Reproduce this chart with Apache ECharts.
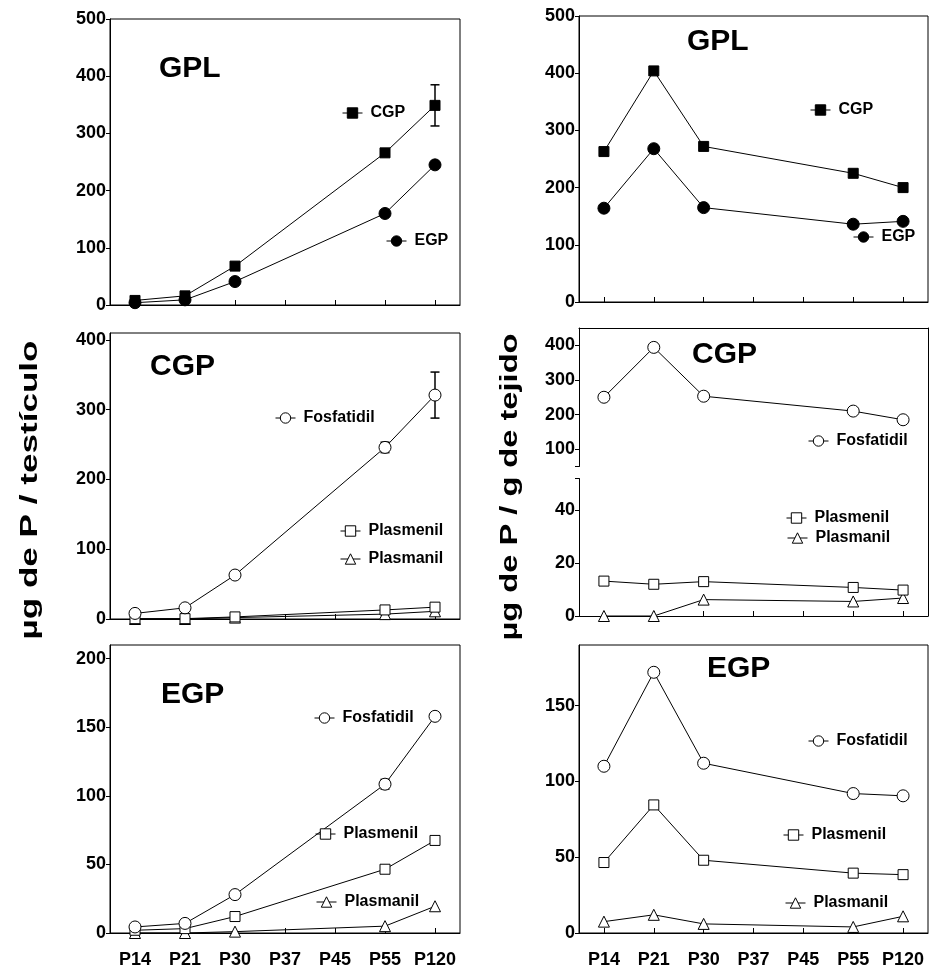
<!DOCTYPE html>
<html>
<head>
<meta charset="utf-8">
<title>Glicerofosfolípidos en testículo</title>
<script src="https://cdn.jsdelivr.net/npm/echarts@6/dist/echarts.min.js"></script>
<style>
  html, body { margin: 0; padding: 0; background: #fff; }
  #chart { width: 932px; height: 972px; }
</style>
</head>
<body>
<div id="chart"></div>
<script>
// Edades postnatales (días)
const categories = ['P14', 'P21', 'P30', 'P37', 'P45', 'P55', 'P120'];

// µg de P / testículo
const gplCgpTestis = [8, 16, 68, null, null, 266, 349];
const gplCgpTestisErr = [0, 0, 0, null, null, 0, 36];
const gplEgpTestis = [4, 9, 41, null, null, 160, 245];

const cgpFosfTestis = [8, 16, 63, null, null, 246, 321];
const cgpFosfTestisErr = [0, 0, 0, null, null, 7.5, 33];
const cgpPlsmeTestis = [0.5, 0.5, 3, null, null, 13, 17];
const cgpPlsmaTestis = [0, 0, 2, null, null, 7, 11];

const egpFosfTestis = [4.4, 7, 28, null, null, 108.5, 158];
const egpFosfTestisErr = [0, 0, 0, null, null, 3.5, 0];
const egpPlsmeTestis = [2, 3.2, 12, null, null, 46.5, 67.5];
const egpPlsmaTestis = [0, 0, 1, null, null, 5, 19.5];

// µg de P / g de tejido
const gplCgpTissue = [263, 404, 272, null, null, 225, 200];
const gplEgpTissue = [164, 268, 165, null, null, 136, 141];

const cgpFosfTissue = [250, 394, 253, null, null, 210, 185];
const cgpPlsmeTissue = [13.2, 12, 13, null, null, 10.8, 9.8];
const cgpPlsmaTissue = [0, 0, 6.2, null, null, 5.5, 6.8];

const egpFosfTissue = [110, 172, 112, null, null, 92, 90.5];
const egpPlsmeTissue = [46.5, 84.5, 48, null, null, 39.5, 38.5];
const egpPlsmaTissue = [7.5, 12, 6, null, null, 4, 11];

// Marcas del eje Y
const ticksGplTestis = [0, 100, 200, 300, 400, 500];
const ticksCgpTestis = [0, 100, 200, 300, 400];
const ticksEgpTestis = [0, 50, 100, 150, 200];
const ticksGplTissue = [0, 100, 200, 300, 400, 500];
const ticksCgpTissueHigh = [100, 200, 300, 400];
const ticksCgpTissueLow = [0, 20, 40];
const ticksEgpTissue = [0, 50, 100, 150];

const FONT = '"Liberation Sans", Arial, Helvetica, sans-serif';
const INK = '#000';

const chart = echarts.init(document.getElementById('chart'), null, { renderer: 'canvas' });

// Paneles: 0 GPL/testículo, 1 GPL/tejido, 2 CGP/testículo, 3 CGP/tejido (arriba del corte),
// 4 CGP/tejido (abajo del corte), 5 EGP/testículo, 6 EGP/tejido, 7 marco del panel cortado
const L1 = 110, W1 = 350, L2 = 579, W2 = 349;
const grids = [
  { left: L1, top: 19, width: W1, height: 286, show: true },
  { left: L2, top: 16, width: W2, height: 286, show: true },
  { left: L1, top: 333, width: W1, height: 286, show: true },
  { left: L2, top: 328, width: W2, height: 138.5, show: false },
  { left: L2, top: 478.5, width: W2, height: 137.5, show: false },
  { left: L1, top: 645, width: W1, height: 288, show: true },
  { left: L2, top: 645, width: W2, height: 288, show: true },
  { left: L2, top: 328, width: W2, height: 288, show: false }
].map(g => Object.assign({ borderColor: INK, borderWidth: 1, backgroundColor: 'transparent', outerBoundsMode: 'none', containLabel: false }, g));

function catAxis(gridIndex, showLabels, extra) {
  return Object.assign({
    type: 'category', gridIndex, data: categories, boundaryGap: true,
    axisLine: { show: true, onZero: false, lineStyle: { color: INK, width: 1 } },
    axisTick: { show: true, inside: true, length: 5, alignWithLabel: true, interval: 0, lineStyle: { color: INK, width: 1 } },
    axisLabel: { show: showLabels, interval: 0, margin: 18, color: INK, fontSize: 18, fontWeight: 'bold', fontFamily: FONT },
    splitLine: { show: false }
  }, extra || {});
}

function valAxis(gridIndex, min, max, labelVals, tickVals, extra) {
  return Object.assign({
    type: 'value', gridIndex, min, max, position: 'left',
    axisLine: { show: true, onZero: false, lineStyle: { color: INK, width: 1 } },
    axisTick: { show: true, inside: false, length: 4, lineStyle: { color: INK, width: 1 }, customValues: tickVals },
    axisLabel: { show: true, margin: 4, color: INK, fontSize: 18, fontWeight: 'bold', fontFamily: FONT, customValues: labelVals, showMinLabel: true, showMaxLabel: true },
    splitLine: { show: false }
  }, extra || {});
}

const xAxes = [
  catAxis(0, false),
  catAxis(1, false),
  catAxis(2, false),
  catAxis(3, false, { show: false }),
  catAxis(4, false),
  catAxis(5, true),
  catAxis(6, true),
  catAxis(7, false, { position: 'top', axisTick: { show: false }, axisLabel: { show: false } })
];

const yAxes = [
  valAxis(0, 0, 500, ticksGplTestis, ticksGplTestis),
  valAxis(1, 0, 500, ticksGplTissue, ticksGplTissue),
  valAxis(2, 0, 410, ticksCgpTestis, ticksCgpTestis),
  valAxis(3, 50, 450, ticksCgpTissueHigh, [50].concat(ticksCgpTissueHigh)),
  valAxis(4, 0, 52, ticksCgpTissueLow, ticksCgpTissueLow.concat([52])),
  valAxis(5, 0, 210, ticksEgpTestis, ticksEgpTestis),
  valAxis(6, 0, 190, ticksEgpTissue, ticksEgpTissue),
  {
    type: 'value', gridIndex: 7, min: 0, max: 1, position: 'right',
    axisLine: { show: true, onZero: false, lineStyle: { color: INK, width: 1 } },
    axisTick: { show: false }, axisLabel: { show: false }, splitLine: { show: false }
  }
];

const MARKS = {
  filledSquare: { symbol: 'rect', size: 10, fill: INK },
  filledCircle: { symbol: 'circle', size: 12, fill: INK },
  openCircle: { symbol: 'circle', size: 12, fill: '#fff' },
  openSquare: { symbol: 'rect', size: 10, fill: '#fff' },
  openTriangle: { symbol: 'triangle', size: 11, fill: '#fff' }
};

function lineSeries(name, data, axisIndex, mark) {
  const m = MARKS[mark];
  return {
    type: 'line', name, data, xAxisIndex: axisIndex, yAxisIndex: axisIndex,
    connectNulls: true, clip: false, z: 3,
    symbol: m.symbol, symbolSize: m.size, showAllSymbol: true,
    lineStyle: { color: INK, width: 1 },
    itemStyle: { color: m.fill, borderColor: INK, borderWidth: 1 },
    emphasis: { disabled: true },
    animation: false
  };
}

// Barras de error (media ± EEM) a partir de los valores y sus errores
function errorSeries(values, errors, axisIndex) {
  const data = [];
  values.forEach((v, i) => {
    if (v != null && errors[i]) data.push([i, v, errors[i]]);
  });
  return {
    type: 'custom', xAxisIndex: axisIndex, yAxisIndex: axisIndex, z: 2,
    data, silent: true, animation: false,
    renderItem(params, api) {
      const i = api.value(0), m = api.value(1), e = api.value(2);
      const hi = api.coord([i, m + e]);
      const lo = api.coord([i, m - e]);
      const hw = 4.5;
      const st = { stroke: INK, lineWidth: 1.5 };
      return {
        type: 'group',
        children: [
          { type: 'line', shape: { x1: hi[0], y1: hi[1], x2: lo[0], y2: lo[1] }, style: st },
          { type: 'line', shape: { x1: hi[0] - hw, y1: hi[1], x2: hi[0] + hw, y2: hi[1] }, style: st },
          { type: 'line', shape: { x1: lo[0] - hw, y1: lo[1], x2: lo[0] + hw, y2: lo[1] }, style: st }
        ]
      };
    }
  };
}

const series = [
  errorSeries(gplCgpTestis, gplCgpTestisErr, 0),
  lineSeries('CGP', gplCgpTestis, 0, 'filledSquare'),
  lineSeries('EGP', gplEgpTestis, 0, 'filledCircle'),

  lineSeries('CGP', gplCgpTissue, 1, 'filledSquare'),
  lineSeries('EGP', gplEgpTissue, 1, 'filledCircle'),

  errorSeries(cgpFosfTestis, cgpFosfTestisErr, 2),
  lineSeries('Plasmanil', cgpPlsmaTestis, 2, 'openTriangle'),
  lineSeries('Plasmenil', cgpPlsmeTestis, 2, 'openSquare'),
  lineSeries('Fosfatidil', cgpFosfTestis, 2, 'openCircle'),

  lineSeries('Fosfatidil', cgpFosfTissue, 3, 'openCircle'),
  lineSeries('Plasmanil', cgpPlsmaTissue, 4, 'openTriangle'),
  lineSeries('Plasmenil', cgpPlsmeTissue, 4, 'openSquare'),

  errorSeries(egpFosfTestis, egpFosfTestisErr, 5),
  lineSeries('Plasmanil', egpPlsmaTestis, 5, 'openTriangle'),
  lineSeries('Plasmenil', egpPlsmeTestis, 5, 'openSquare'),
  lineSeries('Fosfatidil', egpFosfTestis, 5, 'openCircle'),

  lineSeries('Plasmanil', egpPlsmaTissue, 6, 'openTriangle'),
  lineSeries('Plasmenil', egpPlsmeTissue, 6, 'openSquare'),
  lineSeries('Fosfatidil', egpFosfTissue, 6, 'openCircle')
];

// Leyendas en línea dentro de cada panel (centro del símbolo)
function legendAt(name, cx, cy) {
  return {
    data: [name], left: cx - 10, top: cy - 10, padding: 0, orient: 'horizontal',
    itemWidth: 20, itemHeight: 13, selectedMode: false,
    itemStyle: { borderWidth: 1 },
    lineStyle: { width: 1 },
    textStyle: { color: INK, fontSize: 16, fontWeight: 'bold', fontFamily: FONT, padding: [0, 0, 0, 3] }
  };
}

const legends = [
  legendAt('CGP', 352, 115), legendAt('EGP', 396, 243),
  legendAt('CGP', 820, 112), legendAt('EGP', 863, 239),
  legendAt('Fosfatidil', 285, 420), legendAt('Plasmenil', 350, 533), legendAt('Plasmanil', 350, 561),
  legendAt('Fosfatidil', 818, 443), legendAt('Plasmenil', 796, 520), legendAt('Plasmanil', 797, 540),
  legendAt('Fosfatidil', 324, 720), legendAt('Plasmenil', 325, 836), legendAt('Plasmanil', 326, 904),
  legendAt('Fosfatidil', 818, 743), legendAt('Plasmenil', 793, 837), legendAt('Plasmanil', 795, 905)
];

function panelTitle(text, left, cy) {
  return {
    text, left, top: cy - 18, padding: 0,
    textStyle: { color: INK, fontSize: 30, fontWeight: 'bold', fontFamily: FONT }
  };
}

const titles = [
  panelTitle('GPL', 159, 72),
  panelTitle('GPL', 687, 45),
  panelTitle('CGP', 150, 370),
  panelTitle('CGP', 692, 358),
  panelTitle('EGP', 161, 698),
  panelTitle('EGP', 707, 672)
];

// Títulos de los ejes Y, alargados a lo largo de la columna
function stretchedLabel(text, cx, cy, length) {
  const size = 23;
  const ctx = document.createElement('canvas').getContext('2d');
  ctx.font = 'bold ' + size + 'px ' + FONT;
  const w = ctx.measureText(text).width || 1;
  return {
    type: 'text', x: cx, y: cy, rotation: Math.PI / 2, scaleX: length / w, scaleY: 1,
    style: {
      text, fill: INK, fontSize: size, fontWeight: 'bold', fontFamily: FONT,
      align: 'center', verticalAlign: 'middle'
    },
    silent: true
  };
}

chart.setOption({
  backgroundColor: '#fff',
  animation: false,
  title: titles,
  legend: legends,
  grid: grids,
  xAxis: xAxes,
  yAxis: yAxes,
  series,
  graphic: [
    stretchedLabel('µg de P / testículo', 31, 490, 299),
    stretchedLabel('µg de P / g de tejido', 511, 487, 307)
  ]
});
</script>
</body>
</html>
